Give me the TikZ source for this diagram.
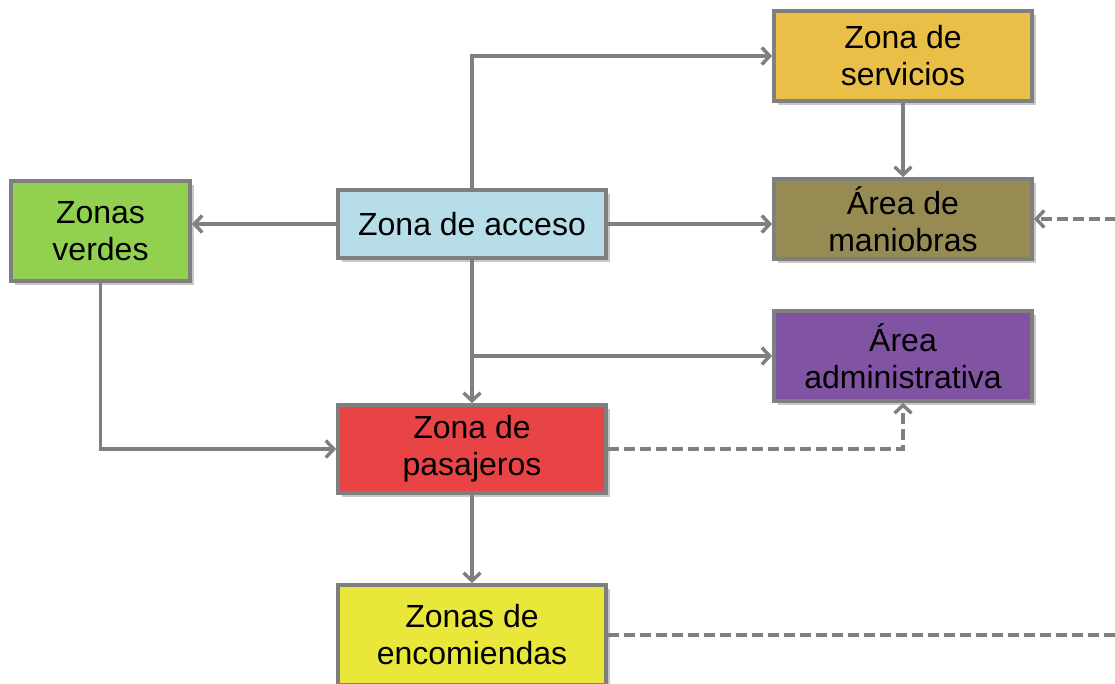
\documentclass[tikz,border=0pt]{standalone}
\usepackage{fontspec}
\setmainfont{Liberation Sans}
\usetikzlibrary{arrows.meta,shadows}
\definecolor{cServ}{HTML}{E9BF47}
\definecolor{cMan}{HTML}{958B53}
\definecolor{cVer}{HTML}{92D14F}
\definecolor{cAcc}{HTML}{B7DEE8}
\definecolor{cAdm}{HTML}{8154A3}
\definecolor{cPas}{HTML}{E84446}
\definecolor{cEnc}{HTML}{EAE73B}
\definecolor{cLine}{HTML}{7F7F7F}
\tikzset{
  zbox/.style={rectangle, draw=cLine, line width=3.8pt, inner sep=0pt, align=center,
    font=\fontsize{32}{37}\selectfont, text=black,
    drop shadow={shadow xshift=4pt, shadow yshift=-4pt, opacity=0.3, fill=black!70}},
  conn/.style={draw=cLine, line width=3.4pt, -{Straight Barb[length=8pt,width=17pt,line width=3.4pt]}},
  plain/.style={draw=cLine, line width=3.4pt},
  dconn/.style={conn, dash pattern=on 11pt off 5pt},
  dplain/.style={plain, dash pattern=on 11pt off 5pt}
}
\begin{document}
\begin{tikzpicture}[x=1pt,y=-1pt]
\clip (0,0) rectangle (1115,683);
\fill[white] (0,0) rectangle (1115,683);
\node[zbox, fill=cServ, minimum width=258pt, minimum height=90pt] (serv) at (903,56) {Zona de\\servicios};
\node[zbox, fill=cMan, minimum width=258pt, minimum height=80pt] (man) at (903,219) {Área de\\maniobras};
\node[zbox, fill=cVer, minimum width=179pt, minimum height=100pt] (ver) at (100.5,231) {Zonas\\verdes};
\node[zbox, fill=cAcc, minimum width=268pt, minimum height=68pt] (acc) at (472,224) {Zona de acceso};
\node[zbox, fill=cAdm, minimum width=258pt, minimum height=90pt] (adm) at (903,356) {Área\\administrativa};
\node[zbox, fill=cPas, minimum width=268pt, minimum height=88pt] (pas) at (472,449) {Zona de\\pasajeros};
\node[zbox, fill=cEnc, minimum width=268pt, minimum height=100pt] (enc) at (472,635) {Zonas de\\encomiendas};
\coordinate (r1) at (1116,219);
\coordinate (r2) at (1116,635);
% connectors
\draw[conn] (acc.north) |- (serv.west);
\draw[conn] (serv.south) -- (man.north);
\draw[conn] (acc.east) -- (man.west |- acc.east);
\draw[conn] (acc.west) -- (ver.east |- acc.west);
\draw[conn] (acc.south) -- (pas.north);
\draw[conn] (acc.south |- adm.west) -- (adm.west);
\draw[conn] (ver.south) |- (pas.west);
\draw[conn] (pas.south) -- (enc.north);
\draw[dconn] (pas.east) -| (adm.south);
\draw[dconn] (r1) -- (man.east);
\draw[dplain] (enc.east) -- (r2);
\end{tikzpicture}
\end{document}
